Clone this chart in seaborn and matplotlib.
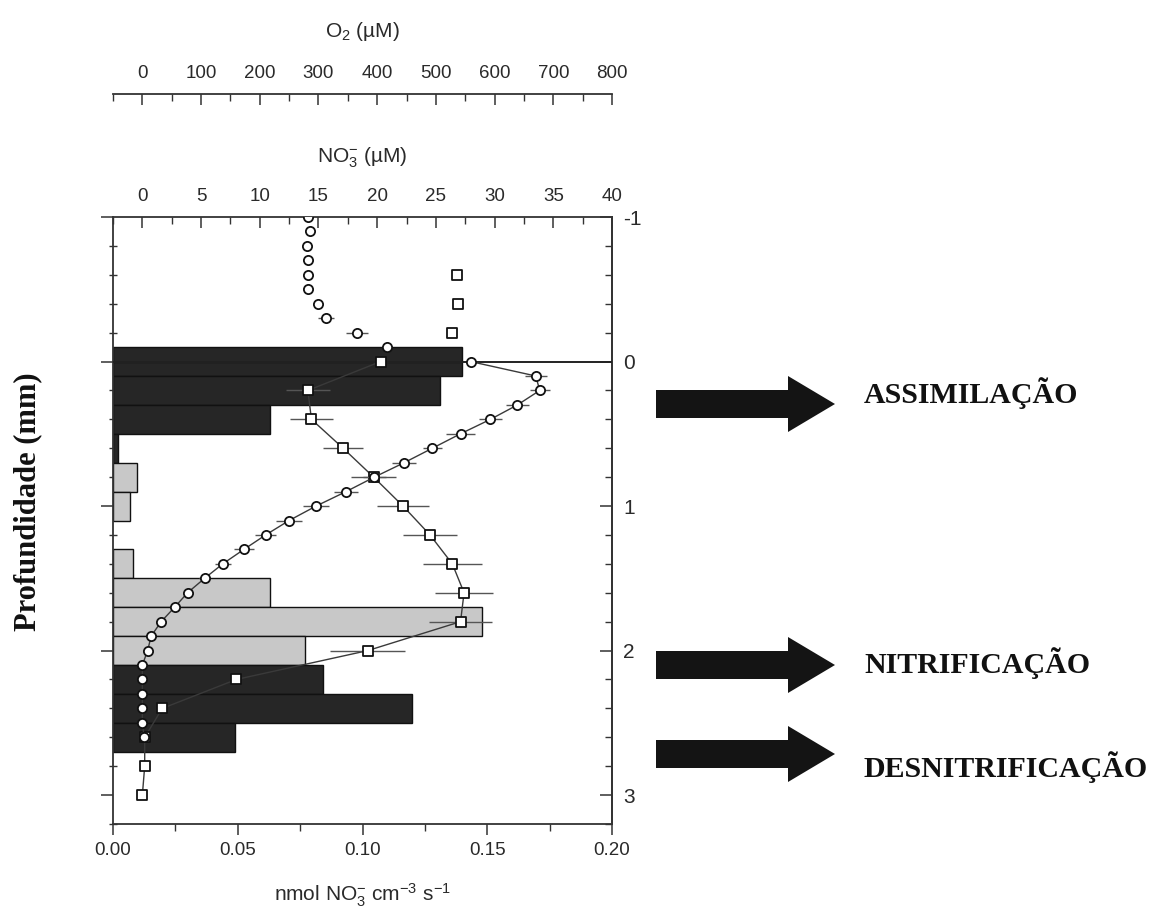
import numpy as np
import pandas as pd
import matplotlib
matplotlib.use('Agg')
import matplotlib.pyplot as plt
from matplotlib.ticker import MultipleLocator, FormatStrFormatter, FixedLocator
from matplotlib.patches import FancyArrow
import seaborn as sns

#------------------------------------------------------------------
#   DATA
#------------------------------------------------------------------

# O2 profile (circles), depth in mm
depth_o2 = [-1.0, -0.9, -0.8, -0.7, -0.6, -0.5, -0.4, -0.3, -0.2, -0.1,
            0.0, 0.1, 0.2, 0.3, 0.4, 0.5, 0.6, 0.7, 0.8, 0.9,
            1.0, 1.1, 1.2, 1.3, 1.4, 1.5, 1.6, 1.7, 1.8, 1.9,
            2.0, 2.1, 2.2, 2.3, 2.4, 2.5, 2.6]
o2 = [282, 285, 280, 282, 282, 282, 299, 313, 366, 417,
      559, 670, 677, 639, 593, 542, 494, 446, 395, 347,
      296, 250, 210, 173, 137, 106, 77, 55, 32, 15,
      9, 0, 0, 0, 0, 0, 3]
o2_err = [0, 0, 0, 0, 0, 0, 0, 13, 19, 0,
          0, 19, 17, 19, 20, 24, 16, 20, 20, 20,
          22, 22, 18, 17, 14, 9, 7, 5, 4, 0,
          0, 0, 0, 0, 0, 0, 0]

# NO3- profile (squares)
depth_no3 = [-0.6, -0.4, -0.2, 0.0, 0.2, 0.4, 0.6, 0.8, 1.0, 1.2,
             1.4, 1.6, 1.8, 2.0, 2.2, 2.4, 2.6, 2.8, 3.0]
no3 = [26.8, 26.9, 26.4, 20.3, 14.1, 14.4, 17.1, 19.7, 22.2, 24.5,
       26.4, 27.4, 27.1, 19.2, 8.0, 1.7, 0.2, 0.2, 0.0]
no3_err = [0, 0, 0, 0, 1.9, 1.8, 1.7, 1.9, 2.2, 2.3,
           2.5, 2.5, 2.7, 3.2, 0, 0, 0, 0, 0]

# NO3- rates (bars)
bar_top = [-0.1, 0.0, 0.1, 0.3, 0.5, 0.7, 0.9, 1.3, 1.5, 1.7, 1.9, 2.1, 2.3, 2.5]
bar_bottom = [0.0, 0.1, 0.3, 0.5, 0.7, 0.9, 1.1, 1.5, 1.7, 1.9, 2.1, 2.3, 2.5, 2.7]
rate = [0.140, 0.140, 0.131, 0.063, 0.002, 0.0095, 0.0068, 0.0082,
        0.063, 0.148, 0.077, 0.084, 0.120, 0.049]
process = ['consumo'] * 5 + ['producao'] * 6 + ['consumo'] * 3

depth_ticks = [-1, 0, 1, 2, 3]
labels = ['ASSIMILAÇÃO', 'NITRIFICAÇÃO', 'DESNITRIFICAÇÃO']

df_o2 = pd.DataFrame({'depth': depth_o2, 'o2': o2, 'err': o2_err})
df_no3 = pd.DataFrame({'depth': depth_no3, 'no3': no3, 'err': no3_err})
df_bar = pd.DataFrame({'top': bar_top, 'bottom': bar_bottom, 'rate': rate, 'process': process})
df_bar['mid'] = (df_bar['top'] + df_bar['bottom']) / 2
df_bar['thick'] = df_bar['bottom'] - df_bar['top']
bar_colors = {'consumo': '#262626', 'producao': '#c8c8c8'}

#------------------------------------------------------------------
#   STYLE
#------------------------------------------------------------------

sns.set_style('ticks')
plt.rcParams['font.family'] = ['Liberation Sans', 'DejaVu Sans']
plt.rcParams['mathtext.fontset'] = 'custom'
plt.rcParams['mathtext.rm'] = 'Liberation Sans'
plt.rcParams['mathtext.it'] = 'Liberation Sans:italic'
plt.rcParams['axes.unicode_minus'] = False
txt = '#2a2a2a'
spine_c = '#333333'

W, H = 1159, 921
fig = plt.figure(figsize=(W / 100, H / 100), dpi=100)
ax = fig.add_axes([113 / W, 1 - 824 / H, 499 / W, 607 / H])

#------------------------------------------------------------------
#   BARS (bottom axis: rate)
#------------------------------------------------------------------

ax.barh(df_bar['mid'], df_bar['rate'], height=df_bar['thick'], left=0,
        color=df_bar['process'].map(bar_colors), edgecolor='#111111', linewidth=1.0, zorder=2)
ax.axhline(0, color='#222222', lw=1.4, zorder=3)

ax.set_xlim(0, 0.2)
ax.set_ylim(3.2, -1)
ax.xaxis.set_major_locator(MultipleLocator(0.05))
ax.xaxis.set_minor_locator(MultipleLocator(0.025))
ax.xaxis.set_major_formatter(FormatStrFormatter('%.2f'))
ax.tick_params(axis='x', which='major', direction='out', length=8, width=1.1, pad=5,
               labelsize=13.5, colors=spine_c, labelcolor=txt)
ax.tick_params(axis='x', which='minor', direction='out', length=5, width=1.0, colors=spine_c)
ax.set_xlabel(r'nmol NO$_3^{-}$ cm$^{-3}$ s$^{-1}$', fontsize=15, color=txt, labelpad=16)

ax.yaxis.set_major_locator(FixedLocator(depth_ticks))
ax.yaxis.set_minor_locator(MultipleLocator(0.2))
ax.tick_params(axis='y', which='both', left=True, right=False, labelleft=False, labelright=False)
ax.tick_params(axis='y', which='major', direction='out', length=9, width=1.1, colors=spine_c)
ax.tick_params(axis='y', which='minor', direction='inout', length=6, width=1.0, colors=spine_c)
ax.set_ylabel('')

sec = ax.secondary_yaxis('right')
sec.yaxis.set_major_locator(FixedLocator(depth_ticks))
sec.yaxis.set_minor_locator(MultipleLocator(0.2))
sec.yaxis.set_major_formatter(FormatStrFormatter('%d'))
sec.tick_params(axis='y', which='major', direction='in', length=9, width=1.1, pad=8,
                labelsize=15, colors=spine_c, labelcolor=txt)
sec.tick_params(axis='y', which='minor', direction='in', length=5, width=1.0, colors=spine_c)
sec.spines['right'].set_color(spine_c)
sec.spines['right'].set_linewidth(1.3)

for s in ax.spines.values():
    s.set_color(spine_c)
    s.set_linewidth(1.3)
ax.spines['top'].set_visible(False)

#------------------------------------------------------------------
#   NO3- PROFILE (top axis)
#------------------------------------------------------------------

ax2 = ax.twiny()
sed_no3 = df_no3[df_no3['depth'] >= 0]
sns.lineplot(data=sed_no3, x='no3', y='depth', sort=False, estimator=None, orient='y',
             color='#3a3a3a', lw=1.0, ax=ax2, zorder=3)
ax2.errorbar(df_no3['no3'], df_no3['depth'], xerr=df_no3['err'], fmt='none',
             ecolor='#555555', elinewidth=1.0, zorder=3)
sns.scatterplot(data=df_no3, x='no3', y='depth', marker='s', s=48, color='white',
                edgecolor='#111111', linewidth=1.3, ax=ax2, zorder=5)
ax2.set_xlim(-2.5, 40)
ax2.xaxis.set_major_locator(MultipleLocator(5))
ax2.xaxis.set_minor_locator(MultipleLocator(2.5))
ax2.tick_params(axis='x', which='major', direction='in', length=8, width=1.1, pad=9,
                labelsize=13.5, colors=spine_c, labelcolor=txt)
ax2.tick_params(axis='x', which='minor', direction='in', length=5, width=1.0, colors=spine_c)
ax2.set_xlabel(r'NO$_3^{-}$ (µM)', fontsize=15, color=txt, labelpad=18)
ax2.set_ylabel('')
for side in ['left', 'right', 'bottom']:
    ax2.spines[side].set_visible(False)
ax2.spines['top'].set_color(spine_c)
ax2.spines['top'].set_linewidth(1.3)

#------------------------------------------------------------------
#   O2 PROFILE (upper axis)
#------------------------------------------------------------------

ax3 = ax.twiny()
sed_o2 = df_o2[df_o2['depth'] >= 0]
sns.lineplot(data=sed_o2, x='o2', y='depth', sort=False, estimator=None, orient='y',
             color='#3a3a3a', lw=1.0, ax=ax3, zorder=3)
ax3.errorbar(df_o2['o2'], df_o2['depth'], xerr=df_o2['err'], fmt='none',
             ecolor='#555555', elinewidth=1.0, zorder=3)
sns.scatterplot(data=df_o2, x='o2', y='depth', marker='o', s=44, color='white',
                edgecolor='#111111', linewidth=1.3, ax=ax3, zorder=6)
ax3.set_xlim(-50, 800)
ax3.spines['top'].set_position(('axes', 1 + 123 / 607))
ax3.xaxis.set_major_locator(MultipleLocator(100))
ax3.xaxis.set_minor_locator(MultipleLocator(50))
ax3.tick_params(axis='x', which='major', direction='in', length=8, width=1.1, pad=9,
                labelsize=13.5, colors=spine_c, labelcolor=txt)
ax3.tick_params(axis='x', which='minor', direction='in', length=5, width=1.0, colors=spine_c)
ax3.set_xlabel(r'O$_2$ (µM)', fontsize=15, color=txt, labelpad=20)
ax3.set_ylabel('')
for side in ['left', 'right', 'bottom']:
    ax3.spines[side].set_visible(False)
ax3.spines['top'].set_color(spine_c)
ax3.spines['top'].set_linewidth(1.3)

ax.set_ylim(3.2, -1)

#------------------------------------------------------------------
#   LABELS AND ARROWS
#------------------------------------------------------------------

fig.text(28 / W, 1 - 502 / H, 'Profundidade (mm)', rotation=90, ha='center', va='center',
         family=['Liberation Serif', 'DejaVu Serif'], weight='bold', fontsize=22, color='#111111')

arrow_y = [404, 665, 754]      # pixel rows of the arrow centres
label_y = [403, 673, 777]      # pixel rows of the label baselines
for ay, ly, lab in zip(arrow_y, label_y, labels):
    arr = FancyArrow(6.56, (H - ay) / 100, 1.79, 0, width=0.28, head_width=0.56,
                     head_length=0.47, length_includes_head=True,
                     transform=fig.dpi_scale_trans, color='#141414', lw=0)
    fig.add_artist(arr)
    fig.text(8.64, (H - ly) / 100, lab, transform=fig.dpi_scale_trans, ha='left', va='baseline',
             family=['Liberation Serif', 'DejaVu Serif'], weight='bold', fontsize=21.5, color='#111111')

fig.savefig('out.png', dpi=100, facecolor='white')
